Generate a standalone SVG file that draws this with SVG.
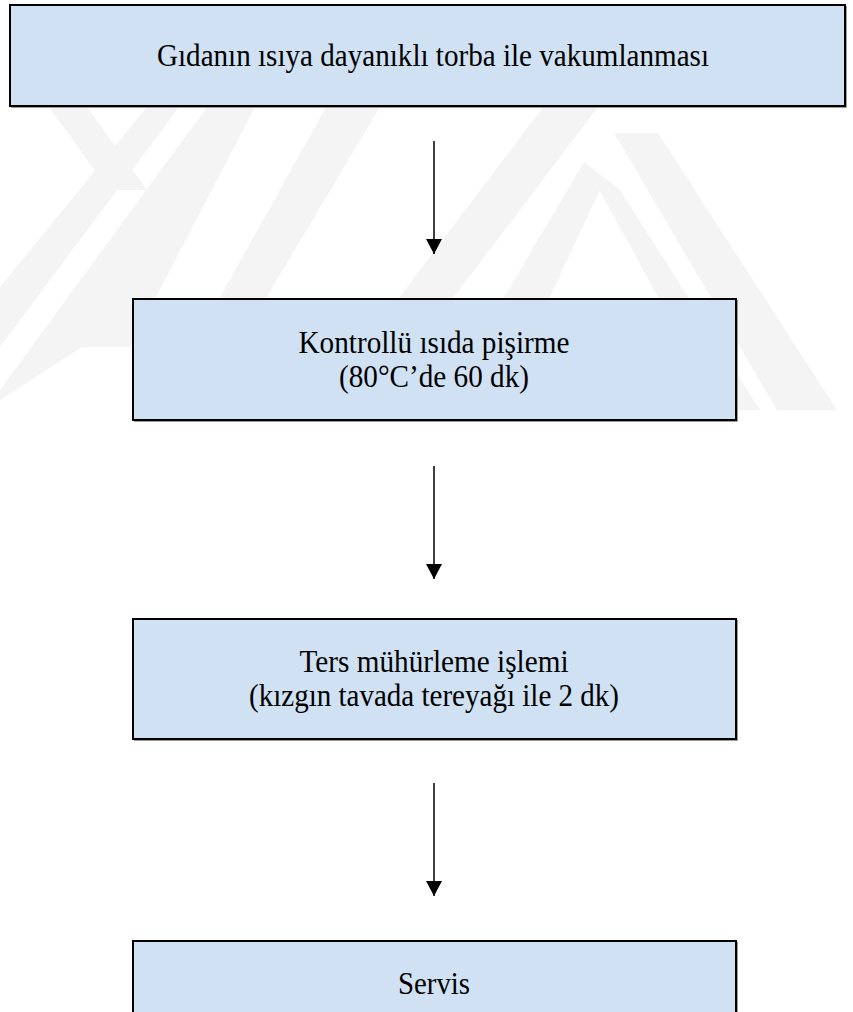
<svg xmlns="http://www.w3.org/2000/svg" width="853" height="1012" viewBox="0 0 853 1012">
  <defs>
    <marker id="arrow" viewBox="0 0 15 16" markerWidth="15" markerHeight="16" refX="15" refY="8" orient="auto" markerUnits="userSpaceOnUse">
      <path d="M0,0 L15,8 L0,16 z" fill="#000"/>
    </marker>
    <style>
      .box { fill: #cfe1f2; stroke: #000; stroke-width: 2; }
      .shadow { fill: none; stroke: #9a9a9a; stroke-width: 1; }
      .lbl { font-family: "Liberation Serif", "Times New Roman", serif; font-size: 31px; fill: #000; text-anchor: middle; }
      .conn { stroke: #000; stroke-width: 1.5; fill: none; marker-end: url(#arrow); }
      .wm { fill: #f4f4f4; }
    </style>
  </defs>
  <rect width="853" height="1012" fill="#fff"/>
  <g id="watermark">
    <polygon class="wm" points="49,107 87,107 147,190 109,190"/>
    <polygon class="wm" points="147,107 179,107 0,347 0,287"/>
    <polygon class="wm" points="207,107 255,107 130,347 82,347 0,400 0,390"/>
    <polygon class="wm" points="326,107 380,107 217,380 174,380"/>
    <polygon class="wm" points="543,107 598,107 391,380 337,380"/>
    <polygon class="wm" points="614,133 658,133 837,410 777,410"/>
    <polygon class="wm" points="584,162 600,190 511,380 455,380"/>
    <polygon class="wm" points="584,162 620,190 760,410 720,410"/>
  </g>
  <g id="connectors">
    <path class="conn" d="M434,141 V254"/>
    <path class="conn" d="M434,466 V579"/>
    <path class="conn" d="M434,783 V896"/>
  </g>
  <g id="node1">
    <path class="shadow" d="M846.5,6 V107.5 H11"/>
    <rect class="box" x="10" y="5" width="835" height="101"/>
    <text class="lbl" x="433" y="66" textLength="552" lengthAdjust="spacingAndGlyphs">Gıdanın ısıya dayanıklı torba ile vakumlanması</text>
  </g>
  <g id="node2">
    <path class="shadow" d="M737.5,300 V421.5 H134"/>
    <rect class="box" x="133" y="299" width="603" height="121"/>
    <text class="lbl" x="434" y="353" textLength="271" lengthAdjust="spacingAndGlyphs">Kontrollü ısıda pişirme</text>
    <text class="lbl" x="434" y="387" textLength="190" lengthAdjust="spacingAndGlyphs">(80°C’de 60 dk)</text>
  </g>
  <g id="node3">
    <path class="shadow" d="M737.5,620 V740.5 H134"/>
    <rect class="box" x="133" y="619" width="603" height="120"/>
    <text class="lbl" x="434" y="672" textLength="269" lengthAdjust="spacingAndGlyphs">Ters mühürleme işlemi</text>
    <text class="lbl" x="434" y="706" textLength="370" lengthAdjust="spacingAndGlyphs">(kızgın tavada tereyağı ile 2 dk)</text>
  </g>
  <g id="node4">
    <path class="shadow" d="M737.5,942 V1020"/>
    <rect class="box" x="133" y="941" width="603" height="90"/>
    <text class="lbl" x="434" y="994" textLength="72" lengthAdjust="spacingAndGlyphs">Servis</text>
  </g>
</svg>
